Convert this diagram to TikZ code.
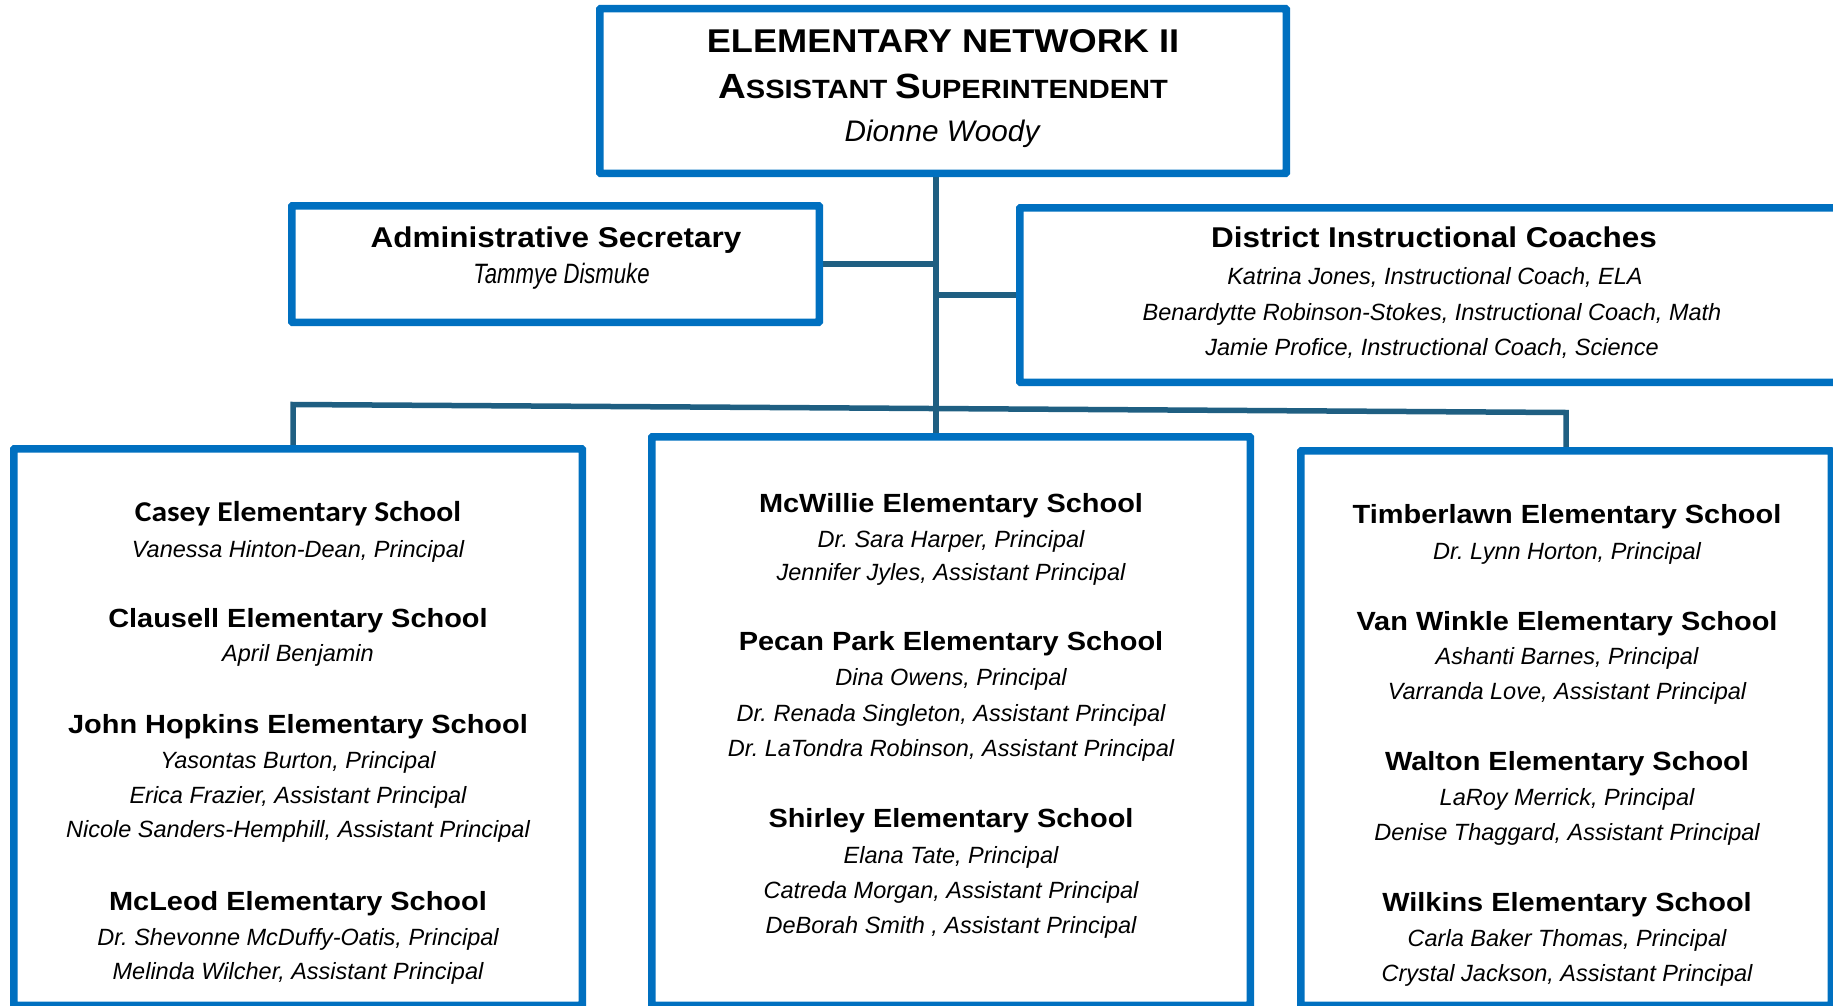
\documentclass[tikz,border=0pt]{standalone}
\usepackage{fontspec}
\setmainfont{Liberation Sans}
\newfontfamily\widefont[FakeStretch=1.1]{Liberation Sans}
\newfontfamily\narrowfont[FakeStretch=0.79]{Liberation Sans}
\newfontfamily\calwide[FakeStretch=1.1]{Carlito}
\definecolor{boxblue}{HTML}{0070C0}
\definecolor{connteal}{HTML}{1F5F82}
\frenchspacing
\begin{document}
\begin{tikzpicture}[x=1pt,y=-1pt,
  box/.style={draw=boxblue, line width=5pt, rounded corners=1.5pt, inner sep=0pt, rectangle},
  conn/.style={draw=connteal, line width=5.5pt, line join=miter},
  lbl/.style={anchor=base, inner sep=0pt, text=black},
  maintitle/.style={lbl, font=\widefont\bfseries\fontsize{32.9}{36}\selectfont},
  ttl/.style={lbl, font=\widefont\bfseries\fontsize{28.6}{32}\selectfont},
  sch/.style={lbl, font=\widefont\bfseries\fontsize{26.3}{30}\selectfont},
  cas/.style={lbl, font=\calwide\bfseries\fontsize{28.7}{30}\selectfont},
  ppl/.style={lbl, font=\itshape\fontsize{23.5}{28}\selectfont},
  pplnarrow/.style={lbl, font=\narrowfont\itshape\fontsize{28}{30}\selectfont},
  pplbig/.style={lbl, font=\itshape\fontsize{29.7}{32}\selectfont}
]
\useasboundingbox (0,0) rectangle (1833,1006);

% boxes (shapes only, text placed below)
\node[box, minimum width=684pt, minimum height=162pt] (top) at (943,91) {};
\node[box, minimum width=525pt, minimum height=114pt] (admin) at (555.5,264) {};
\node[box, minimum width=826pt, minimum height=172pt] (dic) at (1434,295) {};
\node[box, minimum width=566pt, minimum height=554pt] (left) at (298,727) {};
\node[box, minimum width=596pt, minimum height=566pt] (mid) at (951,721) {};
\node[box, minimum width=528pt, minimum height=552pt] (right) at (1566,728) {};

% connectors
\coordinate (trunkTop) at ([xshift=-7pt]top.south);
\coordinate (trunkBot) at ([xshift=-15pt]mid.north);
\draw[conn] (trunkTop) -- (trunkBot);
\draw[conn] (admin.east) -- (admin.east -| trunkTop);
\draw[conn] (dic.west) -- (dic.west -| trunkTop);
\draw[conn] ([xshift=-5pt]left.north) -- ([xshift=-5pt,yshift=43pt]left.north)
  -- ([yshift=37pt]right.north) -- (right.north);

% redraw box borders on top of connectors
\draw[box] (top.north west) rectangle (top.south east);
\draw[box] (admin.north west) rectangle (admin.south east);
\draw[box] (dic.north west) rectangle (dic.south east);
\draw[box] (left.north west) rectangle (left.south east);
\draw[box] (mid.north west) rectangle (mid.south east);
\draw[box] (right.north west) rectangle (right.south east);

% top box
\node[maintitle] (t1) at (943,53) {ELEMENTARY NETWORK II};
\node[lbl, font=\widefont\bfseries] (t2) at (943,99) {{\fontsize{35}{36}\selectfont A}{\fontsize{26.4}{36}\selectfont SSISTANT }{\fontsize{35}{36}\selectfont S}{\fontsize{26.4}{36}\selectfont UPERINTENDENT}};
\node[pplbig] (t3) at (942,142) {Dionne Woody};

% admin
\node[ttl] (a1) at (556,247) {Administrative Secretary};
\node[pplnarrow] (a2) at (561.5,283) {Tammye Dismuke};

% district coaches
\node[ttl] (d1) at (1434,247) {District Instructional Coaches};
\node[ppl] (d2) at (1435,284) {Katrina Jones, Instructional Coach, ELA};
\node[ppl] (d3) at (1432,320) {Benardytte Robinson-Stokes, Instructional Coach, Math};
\node[ppl] (d4) at (1432,355) {Jamie Profice, Instructional Coach, Science};

% left box
\node[cas] (l1) at (298,521) {Casey Elementary School};
\node[ppl] (l2) at (298,557) {Vanessa Hinton-Dean, Principal};
\node[sch] (l3) at (298,627) {Clausell Elementary School};
\node[ppl] (l4) at (298,661) {April Benjamin};
\node[sch] (l5) at (298,733) {John Hopkins Elementary School};
\node[ppl] (l6) at (298,768) {Yasontas Burton, Principal};
\node[ppl] (l7) at (298,803) {Erica Frazier, Assistant Principal};
\node[ppl] (l8) at (298,837) {Nicole Sanders-Hemphill, Assistant Principal};
\node[sch] (l9) at (298,910) {McLeod Elementary School};
\node[ppl] (l10) at (298,945) {Dr. Shevonne McDuffy-Oatis, Principal};
\node[ppl] (l11) at (298,979) {Melinda Wilcher, Assistant Principal};

% middle box
\node[sch] (m1) at (951,512) {McWillie Elementary School};
\node[ppl] (m2) at (951,547) {Dr. Sara Harper, Principal};
\node[ppl] (m3) at (951,580) {Jennifer Jyles, Assistant Principal};
\node[sch] (m4) at (951,650) {Pecan Park Elementary School};
\node[ppl] (m5) at (951,685) {Dina Owens, Principal};
\node[ppl] (m6) at (951,721) {Dr. Renada Singleton, Assistant Principal};
\node[ppl] (m7) at (951,756) {Dr. LaTondra Robinson, Assistant Principal};
\node[sch] (m8) at (951,827) {Shirley Elementary School};
\node[ppl] (m9) at (951,863) {Elana Tate, Principal};
\node[ppl] (m10) at (951,898) {Catreda Morgan, Assistant Principal};
\node[ppl] (m11) at (951,933) {DeBorah Smith , Assistant Principal};

% right box
\node[sch] (r1) at (1567,523) {Timberlawn Elementary School};
\node[ppl] (r2) at (1567,559) {Dr. Lynn Horton, Principal};
\node[sch] (r3) at (1567,630) {Van Winkle Elementary School};
\node[ppl] (r4) at (1567,664) {Ashanti Barnes, Principal};
\node[ppl] (r5) at (1567,699) {Varranda Love, Assistant Principal};
\node[sch] (r6) at (1567,770) {Walton Elementary School};
\node[ppl] (r7) at (1567,805) {LaRoy Merrick, Principal};
\node[ppl] (r8) at (1567,840) {Denise Thaggard, Assistant Principal};
\node[sch] (r9) at (1567,911) {Wilkins Elementary School};
\node[ppl] (r10) at (1567,946) {Carla Baker Thomas, Principal};
\node[ppl] (r11) at (1567,981) {Crystal Jackson, Assistant Principal};
\end{tikzpicture}
\end{document}
